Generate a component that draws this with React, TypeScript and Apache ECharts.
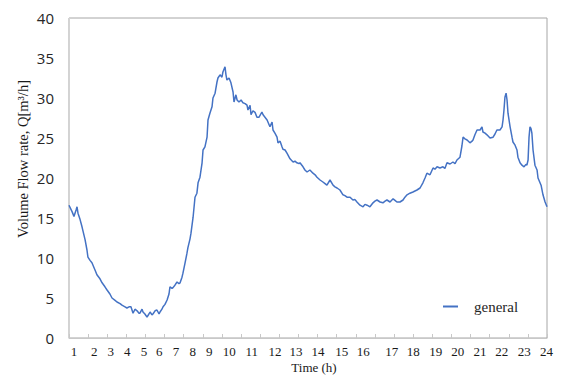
import React, { useEffect, useRef } from "react";
import * as echarts from "echarts";

// x positions are in tick slots (0..25 tick intervals along the time axis)
const timeSlot = [
  0, 0.16, 0.26, 0.37, 0.42, 0.47, 0.58, 0.68, 0.84, 0.94, 0.99, 1.1, 1.2, 1.36, 1.46, 1.62, 1.73, 1.88, 1.99,
  2.14, 2.25, 2.41, 2.51, 2.67, 2.77, 2.93, 3.03, 3.14, 3.24, 3.35, 3.45, 3.56, 3.66, 3.71, 3.82, 3.87, 3.97,
  4.08, 4.18, 4.24, 4.34, 4.39, 4.5, 4.6, 4.71, 4.76, 4.86, 4.92, 5.02, 5.13, 5.23, 5.28, 5.39, 5.44, 5.54,
  5.65, 5.75, 5.81, 5.91, 5.96, 6.07, 6.17, 6.22, 6.33, 6.38, 6.49, 6.59, 6.69, 6.75, 6.85, 6.96, 7.01, 7.11,
  7.22, 7.27, 7.37, 7.48, 7.53, 7.64, 7.74, 7.79, 7.9, 8.0, 8.05, 8.16, 8.21, 8.26, 8.37, 8.47, 8.58, 8.63,
  8.73, 8.79, 8.89, 9.0, 9.1, 9.21, 9.31, 9.36, 9.47, 9.52, 9.62, 9.73, 9.83, 9.94, 10.09, 10.15, 10.25,
  10.36, 10.51, 10.62, 10.67, 10.77, 10.88, 10.93, 11.04, 11.14, 11.19, 11.3, 11.4, 11.56, 11.72, 11.82,
  11.92, 12.03, 12.08, 12.24, 12.34, 12.45, 12.6, 12.76, 12.87, 12.97, 13.13, 13.28, 13.39, 13.49, 13.65,
  13.81, 13.91, 14.02, 14.17, 14.33, 14.43, 14.54, 14.7, 14.85, 14.96, 15.06, 15.22, 15.38, 15.48, 15.59,
  15.74, 15.9, 16.0, 16.11, 16.27, 16.42, 16.53, 16.63, 16.79, 16.95, 17.05, 17.15, 17.31, 17.47, 17.57,
  17.68, 17.83, 17.99, 18.2, 18.36, 18.51, 18.62, 18.72, 18.88, 19.04, 19.14, 19.25, 19.4, 19.56, 19.66,
  19.77, 19.93, 20.08, 20.19, 20.29, 20.45, 20.55, 20.61, 20.71, 20.82, 20.97, 21.08, 21.13, 21.23, 21.34,
  21.5, 21.6, 21.65, 21.76, 21.86, 22.02, 22.18, 22.28, 22.38, 22.54, 22.65, 22.7, 22.75, 22.8, 22.86,
  22.91, 22.96, 23.07, 23.17, 23.22, 23.33, 23.43, 23.48, 23.59, 23.69, 23.8, 23.9, 23.95, 24.01, 24.06,
  24.11, 24.16, 24.21, 24.27, 24.37, 24.48, 24.53, 24.69, 24.79, 24.9, 25.0,
];

const flowRate = [
  16.6, 15.8, 15.2, 16.0, 16.4, 15.6, 14.8, 13.9, 12.3, 11.0, 10.1, 9.7, 9.4, 8.5, 7.9, 7.4, 6.9, 6.4, 6.0,
  5.5, 5.0, 4.7, 4.5, 4.3, 4.1, 3.9, 3.75, 3.9, 3.9, 3.1, 3.6, 3.4, 3.1, 3.1, 3.6, 3.25, 3.0,
  2.6, 3.0, 3.25, 2.9, 3.0, 3.4, 3.5, 3.0, 3.25, 3.6, 3.9, 4.2, 4.75, 5.5, 6.4, 6.2, 6.3, 6.6,
  7.0, 6.8, 6.9, 7.6, 8.1, 9.4, 10.6, 11.3, 12.4, 13.1, 15.1, 17.6, 18.1, 19.4, 20.1, 21.9, 23.5, 23.9,
  25.1, 27.25, 28.1, 28.9, 30.0, 30.6, 32.0, 32.5, 32.9, 32.6, 33.25, 33.9, 32.9, 32.25, 32.5, 31.9, 30.75, 29.5,
  30.4, 29.75, 29.5, 29.75, 29.4, 29.3, 29.1, 28.5, 29.1, 27.9, 28.4, 28.2, 27.6, 27.6, 28.25, 27.9, 27.6,
  27.25, 26.4, 27.0, 26.0, 25.6, 25.1, 24.4, 24.6, 23.9, 23.6, 23.5, 23.1, 22.4, 22.0, 22.1,
  21.9, 21.8, 21.9, 21.4, 21.0, 20.75, 21.0, 20.6, 20.4, 20.1, 19.75, 19.5, 19.3, 19.1, 19.75,
  19.1, 18.9, 18.75, 18.5, 17.9, 17.8, 17.6, 17.6, 17.25, 17.3, 17.0, 16.6, 16.4, 16.7, 16.6,
  16.4, 16.9, 17.1, 17.25, 17.0, 16.9, 17.1, 17.25, 17.0, 17.4, 17.2, 17.0, 17.0, 17.25, 17.6,
  17.9, 18.1, 18.25, 18.5, 18.75, 19.4, 20.0, 20.6, 20.4, 21.25, 21.1, 21.4, 21.25, 21.4, 21.2,
  21.9, 21.75, 22.0, 21.8, 22.25, 22.6, 24.0, 25.1, 24.9, 24.75, 24.4, 24.6, 24.75, 25.4, 26.0,
  26.0, 26.4, 25.75, 25.6, 25.4, 25.0, 25.1, 25.5, 26.0, 26.0, 26.4, 27.25, 28.5, 30.1, 30.6,
  29.75, 28.1, 26.4, 25.1, 24.5, 24.1, 23.5, 22.6, 21.9, 21.6, 21.4, 21.7, 21.6, 22.25, 25.1,
  26.4, 26.2, 25.6, 23.5, 21.6, 21.0, 20.0, 19.1, 17.9, 17.0, 16.4,
];

const hourLabels = [
  "1", "2", "3", "4", "5", "6", "7", "8", "9", "10", "11", "12",
  "13", "14", "15", "16", "17", "18", "19", "20", "21", "22", "23", "24",
];
// where each hour label sits along the tick-slot axis
const hourLabelSlot = [
  0.26, 1.32, 2.18, 3.05, 3.92, 4.72, 5.6, 6.47, 7.34, 8.38, 9.56, 10.77,
  11.87, 13.02, 14.26, 15.39, 16.88, 18.01, 19.18, 20.33, 21.5, 22.63, 23.81, 24.98,
];

const yTicks = { min: 0, max: 40, interval: 5 };

export default function App() {
  const ref = useRef<HTMLDivElement>(null);

  useEffect(() => {
    if (!ref.current) return;
    const chart = echarts.init(ref.current, null, { renderer: "svg" });
    const serif = "'Liberation Serif', 'Times New Roman', serif";
    chart.setOption({
      animation: false,
      backgroundColor: "#ffffff",
      grid: {
        left: 69,
        top: 18,
        width: 478,
        height: 320,
        show: true,
        borderColor: "#a6a6a6",
        borderWidth: 1,
        backgroundColor: "transparent",
      },
      legend: {
        show: true,
        left: 438,
        top: 294,
        itemWidth: 15,
        itemHeight: 2,
        data: [{ name: "general", icon: "rect" }],
        textStyle: {
          fontFamily: serif,
          fontSize: 15,
          color: "#262626",
          padding: [0, 0, 0, 11],
        },
      },
      xAxis: [
        {
          type: "value",
          min: 0,
          max: 25,
          interval: 1,
          axisLine: { show: true, lineStyle: { color: "#c8c8c8", width: 1 } },
          axisTick: { show: true, inside: true, length: 4, lineStyle: { color: "#c8c8c8" } },
          axisLabel: { show: false },
          splitLine: { show: false },
        },
        {
          type: "value",
          min: 0,
          max: 25,
          position: "bottom",
          axisLine: { show: false },
          axisTick: { show: false },
          splitLine: { show: false },
          axisLabel: {
            show: true,
            customValues: hourLabelSlot,
            margin: 6,
            fontFamily: serif,
            fontSize: 13,
            lineHeight: 14,
            color: "#1a1a1a",
            formatter: (v: number) => {
              const i = hourLabelSlot.findIndex((p) => Math.abs(p - v) < 1e-6);
              return i >= 0 ? hourLabels[i] : "";
            },
          },
        },
      ],
      yAxis: {
        type: "value",
        min: yTicks.min,
        max: yTicks.max,
        interval: yTicks.interval,
        axisLine: { show: true, lineStyle: { color: "#d4d4d4", width: 1 } },
        axisTick: { show: false },
        splitLine: { show: false },
        axisLabel: {
          margin: 15,
          fontFamily: "'Open Sans', 'Noto Sans', sans-serif",
          fontSize: 15,
          color: "#262626",
        },
      },
      graphic: [
        {
          type: "text",
          x: 23,
          y: 159,
          rotation: Math.PI / 2,
          style: {
            text: "Volume Flow rate, Q[m³/h]",
            font: `14.5px ${serif}`,
            fill: "#1a1a1a",
            textAlign: "center",
            textVerticalAlign: "middle",
            align: "center",
            verticalAlign: "middle",
          },
        },
        {
          type: "text",
          x: 314,
          y: 367,
          style: {
            text: "Time (h)",
            font: `13px ${serif}`,
            fill: "#1a1a1a",
            textAlign: "center",
            textVerticalAlign: "middle",
            align: "center",
            verticalAlign: "middle",
          },
        },
      ],
      series: [
        {
          name: "general",
          type: "line",
          xAxisIndex: 0,
          showSymbol: false,
          symbol: "none",
          data: timeSlot.map((t, i) => [t, flowRate[i]]),
          lineStyle: { color: "#4472c4", width: 1.5 },
          itemStyle: { color: "#4472c4" },
        },
      ],
    });
    return () => chart.dispose();
  }, []);

  return (
    <div
      ref={ref}
      style={{ position: "fixed", left: 0, top: 0, width: 563, height: 376, background: "#fff" }}
    />
  );
}
